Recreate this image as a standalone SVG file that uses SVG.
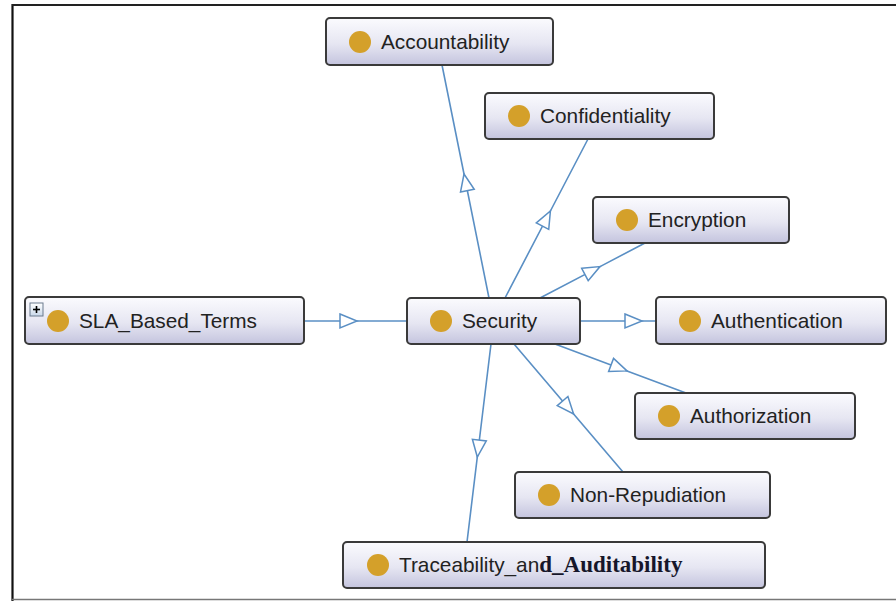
<svg xmlns="http://www.w3.org/2000/svg" width="896" height="601" viewBox="0 0 896 601">
<defs>
<linearGradient id="boxg" x1="0" y1="0" x2="0" y2="1">
<stop offset="0" stop-color="#fbfbfe"/>
<stop offset="0.55" stop-color="#e6e6f2"/>
<stop offset="1" stop-color="#c4c4de"/>
</linearGradient>
<linearGradient id="plusg" x1="0" y1="0" x2="0" y2="1">
<stop offset="0" stop-color="#ffffff"/>
<stop offset="1" stop-color="#c9d8ea"/>
</linearGradient>
<marker id="tri" markerUnits="userSpaceOnUse" viewBox="0 0 20 16" markerWidth="20" markerHeight="16" refX="18" refY="8" orient="auto" overflow="visible">
<path d="M1,1 L18,8 L1,15 Z" fill="#ffffff" stroke="#5a8fc4" stroke-width="1.5" stroke-linejoin="miter"/>
</marker>
<style>
.box{fill:url(#boxg);stroke:#3a3a3a;stroke-width:2}
.dot{fill:#d4a02a}
.lbl{font-family:"Liberation Sans",Arial,sans-serif;font-size:20.8px;fill:#222222}
.bold{font-family:"Liberation Serif","Times New Roman",serif;font-weight:bold;font-size:23px;fill:#16162a}
.edge{fill:none;stroke:#5a8fc4;stroke-width:1.6;marker-mid:url(#tri)}
</style>
</defs>
<rect x="0" y="0" width="896" height="601" fill="#ffffff"/>
<g id="frame">
<line x1="12.5" y1="4" x2="12.5" y2="601" stroke="#111" stroke-width="2.2"/>
<line x1="12" y1="5" x2="896" y2="5" stroke="#222" stroke-width="2.2"/>
<line x1="12" y1="599.5" x2="896" y2="599.5" stroke="#777" stroke-width="1.6"/>
</g>
<g id="connectors">
<path class="edge" d="M489,298 L464,174 L442,65"/>
<path class="edge" d="M505,298 L550.4,211 L588,139"/>
<path class="edge" d="M540,298 L600,266.6 L645,243"/>
<path class="edge" d="M304,321 L357,321 L407,321"/>
<path class="edge" d="M580,321 L642,321 L656,321"/>
<path class="edge" d="M555,344 L627,370.9 L686,393"/>
<path class="edge" d="M514,344 L573.6,414 L623,472"/>
<path class="edge" d="M491,344 L477.3,457 L467,542"/>
</g>
<g id="accountability">
<rect class="box" x="326" y="18" width="227" height="47" rx="4"/>
<circle class="dot" cx="360" cy="42" r="11"/>
<text class="lbl" x="381" y="49">Accountability</text>
</g>
<g id="confidentiality">
<rect class="box" x="485" y="93" width="229" height="46" rx="4"/>
<circle class="dot" cx="519" cy="116" r="11"/>
<text class="lbl" x="540" y="123">Confidentiality</text>
</g>
<g id="encryption">
<rect class="box" x="593" y="197" width="196" height="46" rx="4"/>
<circle class="dot" cx="627" cy="220" r="11"/>
<text class="lbl" x="648" y="227">Encryption</text>
</g>
<g id="sla_based_terms">
<rect class="box" x="25" y="297" width="279" height="47" rx="4"/>
<rect x="30" y="303" width="13" height="13" fill="url(#plusg)" stroke="#6a7a8e" stroke-width="1"/>
<line x1="33" y1="309.5" x2="40" y2="309.5" stroke="#000" stroke-width="1.6"/>
<line x1="36.5" y1="306" x2="36.5" y2="313" stroke="#000" stroke-width="1.6"/>
<circle class="dot" cx="58" cy="321" r="11"/>
<text class="lbl" x="79" y="328">SLA_Based_Terms</text>
</g>
<g id="security">
<rect class="box" x="407" y="298" width="173" height="46" rx="4"/>
<circle class="dot" cx="441" cy="321" r="11"/>
<text class="lbl" x="462" y="328">Security</text>
</g>
<g id="authentication">
<rect class="box" x="656" y="297" width="230" height="47" rx="4"/>
<circle class="dot" cx="690" cy="321" r="11"/>
<text class="lbl" x="711" y="328">Authentication</text>
</g>
<g id="authorization">
<rect class="box" x="635" y="393" width="220" height="46" rx="4"/>
<circle class="dot" cx="669" cy="416" r="11"/>
<text class="lbl" x="690" y="423">Authorization</text>
</g>
<g id="non_repudiation">
<rect class="box" x="515" y="472" width="255" height="46" rx="4"/>
<circle class="dot" cx="549" cy="495" r="11"/>
<text class="lbl" x="570" y="502">Non-Repudiation</text>
</g>
<g id="traceability_and_auditability">
<rect class="box" x="343" y="542" width="422" height="46" rx="4"/>
<circle class="dot" cx="378" cy="565" r="11"/>
<text class="lbl" x="399" y="572">Traceability_an<tspan class="bold">d_Auditability</tspan></text>
</g>
</svg>
